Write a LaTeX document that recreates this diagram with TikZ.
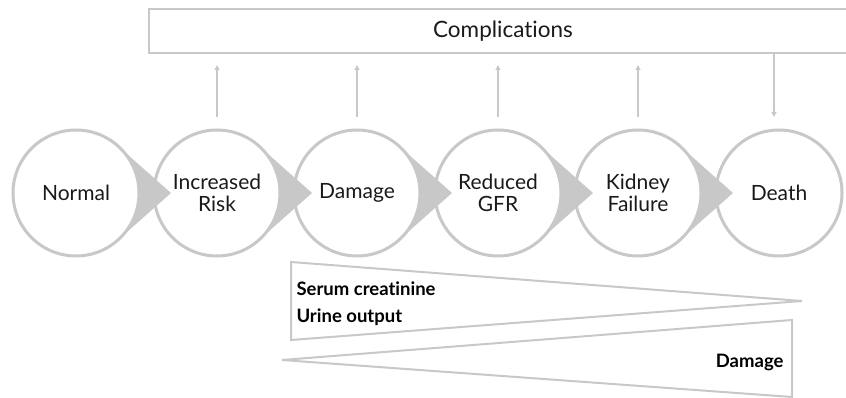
\documentclass[tikz,border=0pt]{standalone}
\usepackage{fontspec}
\setmainfont{Lato}[RawFeature={-liga;-dlig}]
\usetikzlibrary{arrows.meta,calc}
\definecolor{lg}{HTML}{C8C8C8}
\definecolor{txt}{HTML}{1A1A1A}
\begin{document}
\begin{tikzpicture}[x=1pt,y=-1pt,
  stage/.style={circle,draw=lg,line width=3pt,fill=white,minimum size=126pt,inner sep=0pt,align=center,font=\fontsize{21}{21.5}\selectfont,text=txt},
  link/.style={draw=lg,line width=2pt,-{Triangle[length=5pt,width=5pt]}},
  edgeline/.style={draw=lg,line width=2pt},
  lbl/.style={font=\fontsize{18.5}{20}\selectfont\bfseries,text=black}]
\useasboundingbox (0,0) rectangle (846,398);
% stages, drawn right to left so each teardrop point lies over the next circle
\foreach \i/\x/\t in {5/779/Death,4/638/{Kidney\\Failure},3/498/{Reduced\\GFR},2/357/Damage,1/217/{Increased\\Risk},0/76/Normal}{
  \ifnum\i<5
    \fill[lg] ($(\x,193)+(50:63)$) -- (\x+95,193) -- ($(\x,193)+(-50:63)$) -- (\x,193) -- cycle;
  \fi
  \node[stage] (c\i) at (\x,193) {\t};
}
% complications box
\draw[edgeline] (850,9) -- (149,9) -- (149,53) -- (850,53);
\node[font=\fontsize{22.5}{24}\selectfont,text=txt] (comp) at (503,31) {Complications};
\coordinate (bb) at (0,53);
\foreach \i in {1,2,3,4}{
  \draw[link,shorten <=11.5pt,shorten >=12pt] (c\i.north) -- (c\i.north |- bb);
}
\draw[link,shorten >=11.5pt] ([xshift=-5pt]c5.north |- bb) -- ([xshift=-5pt]c5.north);
% wedges
\draw[edgeline,line join=miter] (291,262) -- (802,301) -- (291,340) -- cycle;
\draw[edgeline,line join=miter] (282,360) -- (792,320) -- (792,397) -- cycle;
\node[lbl,anchor=base west] (sc) at (293,295) {Serum creatinine};
\node[lbl,anchor=base west] (uo) at (293,322) {Urine output};
\node[lbl,anchor=base east] (dm) at (787,367) {Damage};
\end{tikzpicture}
\end{document}
